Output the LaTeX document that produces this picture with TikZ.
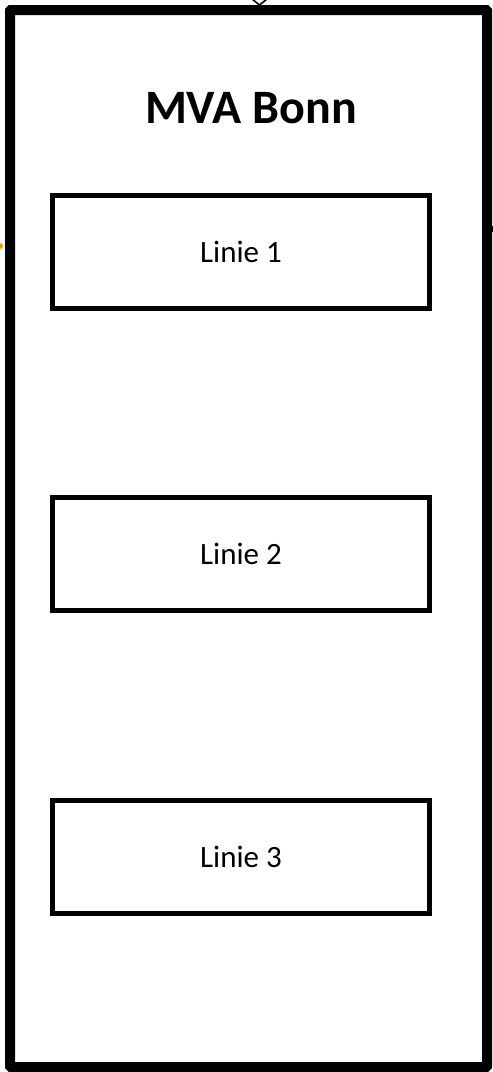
\documentclass[tikz,border=0pt]{standalone}
\usepackage{fontspec}
\setmainfont{Carlito}
\begin{document}
\begin{tikzpicture}[x=1pt,y=-1pt,
  outerbox/.style={draw=black,line width=10pt,rounded corners=1pt},
  linebox/.style={draw=black,line width=4.5pt,minimum width=377pt,minimum height=113pt,inner sep=0pt,font=\fontsize{31}{36}\selectfont},
  titletext/.style={font=\bfseries\fontsize{48}{54}\selectfont,inner sep=0pt}]
\useasboundingbox[fill=white] (0,0) rectangle (493,1072);
\node[outerbox,minimum width=477pt,minimum height=1057pt,inner sep=0pt] (mva) at (248.5,538.5) {};
\node[titletext] (title) at (251,108) {MVA Bonn};
\node[linebox] (l1) at (241,252) {Linie 1};
\node[linebox] (l2) at (241,554) {Linie 2};
\node[linebox] (l3) at (241,857) {Linie 3};
\coordinate (tipL) at (252,-1);
\coordinate (tipA) at (259.5,5);
\coordinate (tipR) at (267,-1);
\draw[line width=1.6pt] (tipL) -- (tipA) -- (tipR);
\coordinate (yl) at (0,246);
\fill[orange!80!yellow] (yl) circle (3pt);
\coordinate (rt) at (493,226);
\fill[black] (rt) rectangle ++(-1.5,6);
\end{tikzpicture}
\end{document}
